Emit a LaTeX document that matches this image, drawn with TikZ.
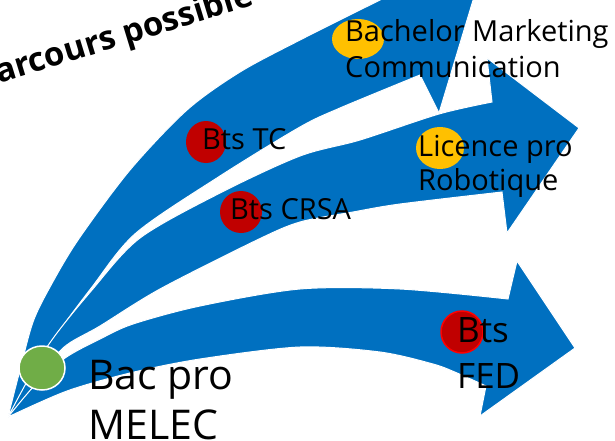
\documentclass[tikz,border=0pt]{standalone}
\usepackage{fontspec}
\setmainfont{Open Sans}
\usetikzlibrary{shapes.geometric}
\definecolor{arrowblue}{RGB}{0,112,192}
\definecolor{darkred}{RGB}{192,0,0}
\definecolor{goldfill}{RGB}{255,192,0}
\definecolor{leafgreen}{RGB}{112,173,71}
\begin{document}
\begin{tikzpicture}[x=1pt,y=-1pt,
  arrowshape/.style={fill=arrowblue, draw=white, line width=1pt, line join=miter},
  reddot/.style={ellipse, fill=darkred, inner sep=0},
  golddot/.style={ellipse, fill=goldfill, inner sep=0},
  lbl/.style={anchor=base west, inner sep=0, text=black, font=\fontsize{29}{35}\selectfont},
  biglbl/.style={anchor=base west, inner sep=0, text=black, font=\fontsize{35}{42}\selectfont},
  hugelbl/.style={anchor=base west, inner sep=0, text=black, font=\fontsize{41}{50}\selectfont}]
\useasboundingbox (0,0) rectangle (615,441);
\clip (0,0) rectangle (615,441);
% top arrow
\draw[arrowshape] plot[smooth] coordinates {(8,417) (20,370) (33,322) (50,287) (78,240) (130,170) (187,110) (240,72) (300,40) (380,0) (405,-12)}
  -- (380,-50) -- (474,-3) -- (439,113)
  -- plot[smooth] coordinates {(420,75) (340,108) (300,127) (220,176) (136,233) (92,287) (52,342) (8,417)} -- cycle;
% middle arrow
\draw[arrowshape] plot[smooth] coordinates {(8,417) (47,347) (92,290) (140,238) (220,193) (300,156) (360,140) (439,114) (492,102)}
  -- (487,58) -- (579,128) -- (507,233)
  -- plot[smooth] coordinates {(502,192) (400,204) (353,212) (300,222) (257,240) (160,289) (100,326) (63,348) (35,385) (8,417)} -- cycle;
% bottom arrow
\draw[arrowshape] plot[smooth] coordinates {(8,417) (35,385) (65,358) (100,339) (133,324) (200,306) (300,289) (400,289) (508,299)}
  -- (517,261) -- (575,348) -- (480,416)
  -- plot[smooth] coordinates {(486,386) (457,373) (433,364) (380,352) (300,347) (200,359) (130,373) (67,391) (8,417)} -- cycle;
% title
\node[anchor=base west, inner sep=0, rotate=17, font=\bfseries\fontsize{33}{40}\selectfont] (title) at (-21,89.5) {Parcours possible};
% dots
\node[ellipse, fill=leafgreen, draw=white, line width=1.5pt, minimum width=46pt, minimum height=44pt, inner sep=0] (melecdot) at (42,368) {};
\node[reddot, minimum width=40pt, minimum height=42pt] (tcdot) at (206,142) {};
\node[reddot, minimum width=42pt, minimum height=42pt] (crsadot) at (241,212) {};
\node[golddot, minimum width=52pt, minimum height=40pt] (bachdot) at (358,39) {};
\node[golddot, minimum width=48pt, minimum height=42pt] (licdot) at (440,148) {};
\node[ellipse, fill=darkred, draw=red, line width=1.5pt, minimum width=42pt, minimum height=42pt, inner sep=0] (feddot) at (462,332) {};
% labels
\node[lbl] (bach1) at (345,42) {Bachelor Marketing};
\node[lbl] (bach2) at (345,78) {Communication};
\node[lbl] (lic1) at (418,156) {Licence pro};
\node[lbl] (lic2) at (418,190) {Robotique};
\node[lbl] (tc) at (202,149) {Bts TC};
\node[lbl] (crsa) at (230,219) {Bts CRSA};
\node[biglbl] (fed1) at (457,342) {Bts};
\node[biglbl] (fed2) at (457,388) {FED};
\node[hugelbl] (bac1) at (88,389) {Bac pro};
\node[hugelbl] (bac2) at (88,439) {MELEC};
\end{tikzpicture}
\end{document}
